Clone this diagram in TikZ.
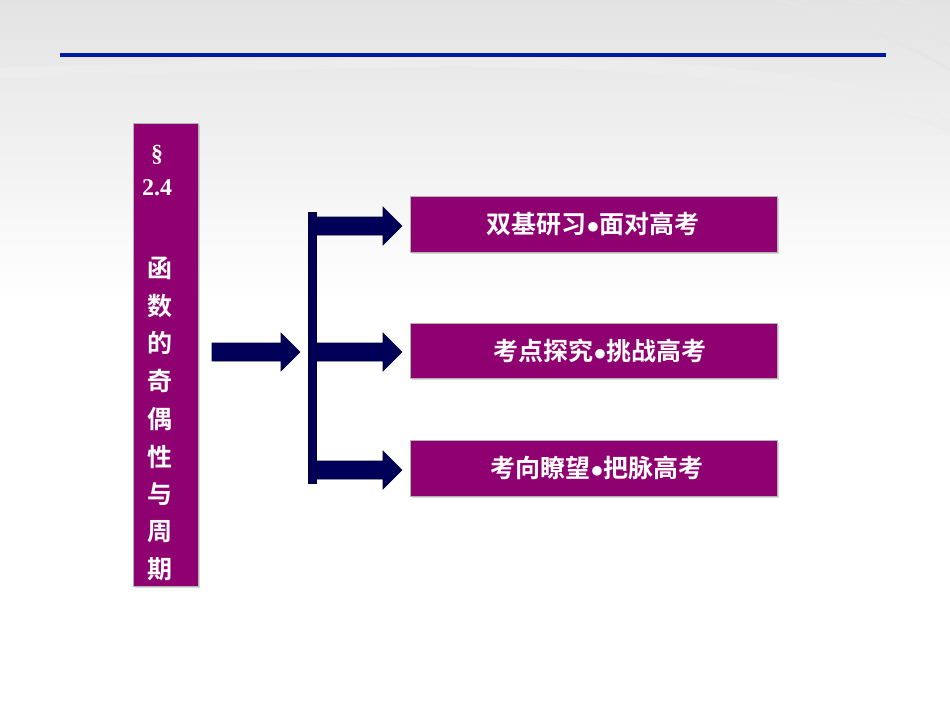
\documentclass[tikz,border=0pt]{standalone}
\usepackage{fontspec}
\usetikzlibrary{shadows}
\setmainfont{Liberation Serif}
\newfontfamily\cjk{Noto Sans CJK SC}[BoldFont={Noto Sans CJK SC Bold}]
\begin{document}
\begin{tikzpicture}[x=1pt,y=-1pt,
  box/.style={draw=gray!60,fill=violet!75!purple,line width=0.8pt,drop shadow={opacity=0.3}},
  lbl/.style={text=white,font=\cjk\bfseries\fontsize{25}{25}\selectfont,anchor=center},
  arr/.style={fill=blue!35!black,draw=blue!20!black,line width=0.6pt}]
\useasboundingbox (0,0) rectangle (950,713);
\shade[top color=gray!22,bottom color=white] (0,0) rectangle (950,300);
\fill[white] (0,300) rectangle (950,713);
% swooshes
\foreach \o in {0,10,20}{
\draw[gray!15,line width=5pt] (0,{70+\o*0.3}) .. controls (400,{60+\o*0.3}) and (700,40) .. (950,{\o+110});}
\draw[gray!20,line width=3pt] (780,0) .. controls (850,20) and (920,50) .. (950,70);
\draw[gray!20,line width=3pt] (850,0) .. controls (890,10) and (930,30) .. (950,45);
\draw[gray!20,line width=3pt] (900,0) .. controls (920,8) and (940,15) .. (950,22);
\draw[blue!60!black!90!cyan,line width=3.5pt] (60,55) -- (886,55);
% left box
\node[box,minimum width=65pt,minimum height=463pt,inner sep=0] (L) at (165.5,354.5) {};
\node[text=white,font=\bfseries\fontsize{24}{24}\selectfont] (s1) at (157,155) {\S};
\node[text=white,font=\bfseries\fontsize{24}{24}\selectfont] (s2) at (157,188) {2.4};
\foreach \c [count=\i] in {函,数,的,奇,偶,性,与,周,期}{
  \node[lbl] (c\i) at (160,{268+37.7*(\i-1)}) {\c};}
% right boxes
\node[box,minimum width=367pt,minimum height=56pt] (b1) at (593.5,224) {};
\node[lbl] (t1) at (593,224) {双基研习$\bullet$面对高考};
\node[box,minimum width=367pt,minimum height=55pt] (b2) at (593.5,350.5) {};
\node[lbl] (t2) at (600,351) {考点探究$\bullet$挑战高考};
\node[box,minimum width=367pt,minimum height=56pt] (b3) at (593.5,468) {};
\node[lbl] (t3) at (597,468) {考向瞭望$\bullet$把脉高考};
% bar
\fill[arr] (308,212) rectangle (316,483);
% arrows
\foreach \x/\y/\xe in {212/352/300,316/352/402,316/226/402,316/470/402}{
  \fill[arr] (\x,{\y-9}) -- ({\xe-19},{\y-9}) -- ({\xe-19},{\y-19}) -- (\xe,\y) -- ({\xe-19},{\y+19}) -- ({\xe-19},{\y+9}) -- (\x,{\y+9}) -- cycle;}
\end{tikzpicture}
\end{document}
